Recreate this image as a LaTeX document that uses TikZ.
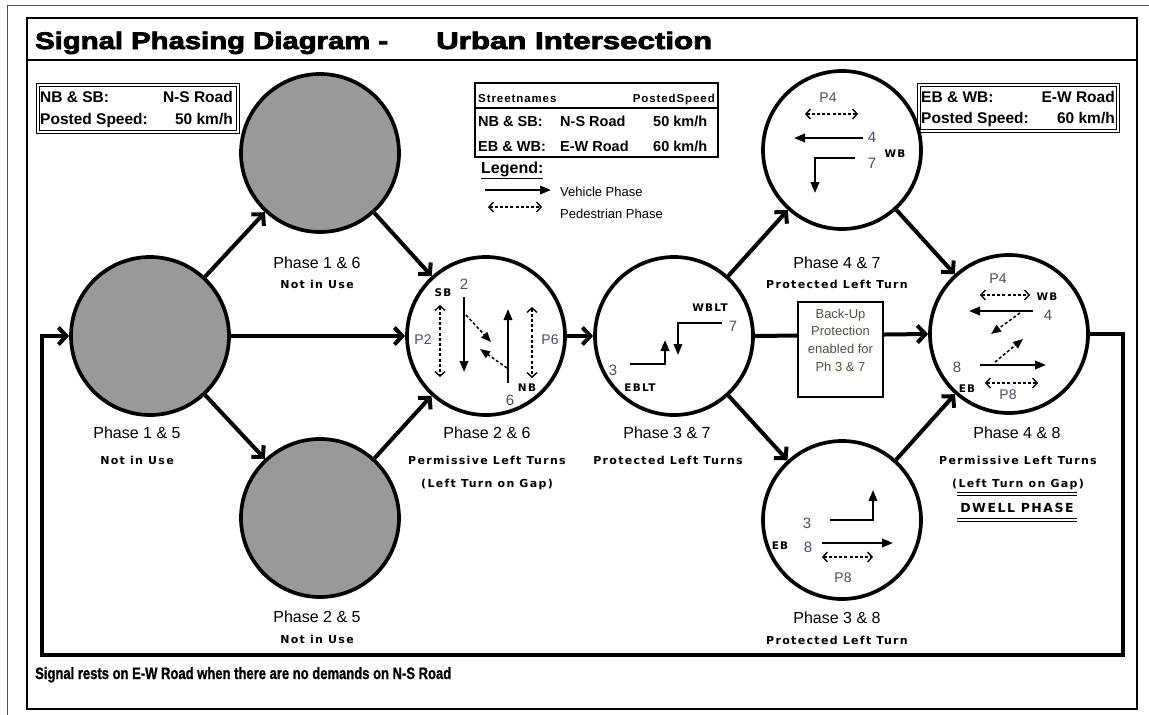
\documentclass[tikz,border=0pt]{standalone}
\usepackage{fontspec}
\usepackage{graphicx}
\setmainfont{Liberation Sans}
\setsansfont{Liberation Sans}
\newfontfamily\lsfont{DejaVu Sans}[LetterSpace=12]
\newfontfamily\lsnarrow{Liberation Sans}[LetterSpace=8]
\newfontfamily\heavyfont{Liberation Sans Bold}[FakeBold=3]
\newfontfamily\notefont{Liberation Sans Bold}[FakeBold=1.2]
\usetikzlibrary{arrows.meta}
\definecolor{circfill}{HTML}{999999}
\definecolor{numc}{HTML}{4A4A6A}
\definecolor{bkc}{HTML}{5A5045}
\newcommand{\fitw}[2]{\resizebox{#1}{\height}{#2}}
\begin{document}
\begin{tikzpicture}[x=1pt,y=-1pt,
  phasec/.style={circle, draw, line width=3.7pt, minimum size=158pt, inner sep=0pt},
  greyc/.style={phasec, fill=circfill},
  conn/.style={line width=4pt, -{Straight Barb[length=8pt,width=17pt]}},
  veh/.style={line width=2.2pt, -{Triangle[length=11pt,width=8.5pt]}},
  ped/.style={line width=1.4pt, dash pattern=on 3pt off 2.2pt, {Straight Barb[length=4.5pt,width=10pt]}-{Straight Barb[length=4.5pt,width=10pt]}},
  pdiag/.style={line width=1.5pt, dash pattern=on 3pt off 2.2pt, -{Triangle[length=10pt,width=8pt]}},
  ptxt/.style={inner sep=0pt, anchor=base, font=\fontsize{16}{18}\selectfont},
  stxt/.style={inner sep=0pt, anchor=base, font=\lsfont\bfseries\fontsize{11}{13}\selectfont},
  dirl/.style={inner sep=0pt, font=\lsfont\bfseries\fontsize{10.5}{12}\selectfont},
  numt/.style={inner sep=0pt, text=numc, font=\fontsize{15}{16}\selectfont},
  pedt/.style={inner sep=0pt, text=numc, font=\fontsize{14}{16}\selectfont},
  infot/.style={inner sep=0pt, font=\bfseries\fontsize{15.5}{17}\selectfont},
  tabt/.style={inner sep=0pt, anchor=base west, font=\bfseries\fontsize{14.5}{16}\selectfont},
  legt/.style={inner sep=0pt, anchor=base west, font=\fontsize{13}{15}\selectfont}
]
\useasboundingbox (0,0) rectangle (1149,715);
% frames
\draw[line width=1pt, black!70] (7,715) -- (7,5) -- (1149,5);
\draw[line width=1.3pt] (27,18) rectangle (1137,709);
\draw[line width=1.3pt] (27,60) -- (1137,60);
% title
\node[inner sep=0pt, anchor=base west] (t1) at (35,49) {\fitw{353pt}{\heavyfont\fontsize{24}{26}\selectfont Signal Phasing Diagram -}};
\node[inner sep=0pt, anchor=base west] (t2) at (436,49) {\fitw{276pt}{\heavyfont\fontsize{24}{26}\selectfont Urban Intersection}};
% left info box
\draw[line width=0.9pt] (36,83) rectangle (239,133);
\draw[line width=0.9pt] (39,86) rectangle (236,130);
\node[infot, anchor=base west] (l1) at (40,102.5) {NB \& SB:};
\node[infot, anchor=base east] (l2) at (233,102.5) {N-S Road};
\node[infot, anchor=base west] (l3) at (40,124.5) {Posted Speed:};
\node[infot, anchor=base east] (l4) at (233,124.5) {50 km/h};
% right info box
\draw[line width=0.9pt] (917,83) rectangle (1119,132);
\draw[line width=0.9pt] (920,86) rectangle (1116,129);
\node[infot, anchor=base west] (r1) at (921,102.5) {EB \& WB:};
\node[infot, anchor=base east] (r2) at (1115,102.5) {E-W Road};
\node[infot, anchor=base west] (r3) at (921,123.5) {Posted Speed:};
\node[infot, anchor=base east] (r4) at (1115,123.5) {60 km/h};
% center table
\draw[line width=2pt] (475,83) rectangle (718,157);
\draw[line width=1.5pt] (475,108) -- (718,108);
\node[inner sep=0pt, anchor=base west, font=\lsnarrow\bfseries\fontsize{11.5}{14}\selectfont] (h1) at (478,102) {Streetnames};
\node[inner sep=0pt, anchor=base east, font=\lsnarrow\bfseries\fontsize{11.5}{14}\selectfont] (h2) at (715,102) {PostedSpeed};
\node[tabt] (c1) at (478,126.5) {NB \& SB:};
\node[tabt] (c2) at (560,126.5) {N-S Road};
\node[tabt] (c3) at (653,126.5) {50 km/h};
\node[tabt] (c4) at (478,151.5) {EB \& WB:};
\node[tabt] (c5) at (560,151.5) {E-W Road};
\node[tabt] (c6) at (653,151.5) {60 km/h};
% legend
\node[inner sep=0pt, anchor=base west, font=\bfseries\fontsize{16}{18}\selectfont] (leg) at (481,173.5) {\underline{Legend:}};
\draw[veh] (485,190) -- (551,190);
\node[legt] (lv) at (560,196.5) {Vehicle Phase};
\draw[ped] (488,207) -- (542,207);
\node[legt] (lp) at (560,218.5) {Pedestrian Phase};
% phase circles
\node[greyc] (p15) at (150,336) {};
\node[greyc] (p16) at (320,153) {};
\node[greyc] (p25) at (320,518) {};
\node[phasec] (p26) at (486,336) {};
\node[phasec] (p37) at (674,336) {};
\node[phasec] (p47) at (842,150) {};
\node[phasec] (p48) at (1009,334) {};
\node[phasec] (p38) at (842,520) {};
% connectors
\draw[conn] (p15) -- (p16);
\draw[conn] (p15) -- (p25);
\draw[conn] (p15) -- (p26);
\draw[conn] (p16) -- (p26);
\draw[conn] (p25) -- (p26);
\draw[conn] (p26) -- (p37);
\draw[conn] (p37) -- (p47);
\draw[conn] (p37) -- (p38);
\draw[conn] (p37.east) -- (p48.west);
\draw[conn] (p47) -- (p48);
\draw[conn] (p38) -- (p48);
\coordinate (loopR) at (1123,655);
\coordinate (loopL) at (42,655);
\draw[conn] (p48.east) -| (loopR) -- (loopL) |- (p15.west);
% back-up box
\node[draw, line width=1.5pt, fill=white, minimum width=85pt, minimum height=95pt, inner sep=0pt] (bk) at (840.5,349.5) {};
\node[inner sep=0pt, align=center, text=bkc, font=\fontsize{13}{17.6}\selectfont] (bkt) at (840.5,340) {Back-Up\\Protection\\enabled for\\Ph 3 \& 7};
% phase labels
\node[ptxt] (a1) at (137,438) {Phase 1 \& 5};
\node[stxt] (a2) at (137,464) {Not in Use};
\node[ptxt] (b1) at (317,268) {Phase 1 \& 6};
\node[stxt] (b2) at (317,288) {Not in Use};
\node[ptxt] (c1l) at (317,622) {Phase 2 \& 5};
\node[stxt] (c2l) at (317,643) {Not in Use};
\node[ptxt] (d1) at (487,438) {Phase 2 \& 6};
\node[stxt] (d2) at (487,464) {Permissive Left Turns};
\node[stxt] (d3) at (487,487) {(Left Turn on Gap)};
\node[ptxt] (e1) at (667,438) {Phase 3 \& 7};
\node[stxt] (e2) at (668,464) {Protected Left Turns};
\node[ptxt] (f1) at (837,268) {Phase 4 \& 7};
\node[stxt] (f2) at (837,288) {Protected Left Turn};
\node[ptxt] (g1) at (1017,438) {Phase 4 \& 8};
\node[stxt] (g2) at (1018,464) {Permissive Left Turns};
\node[stxt] (g3) at (1018,487) {(Left Turn on Gap)};
\draw[line width=0.8pt] (957,492) -- (1077,492) (957,495.5) -- (1077,495.5);
\node[inner sep=0pt, anchor=base, font=\lsfont\bfseries\fontsize{12.5}{15}\selectfont] (g4) at (1017,512) {DWELL PHASE};
\draw[line width=0.8pt] (957,518) -- (1077,518) (957,521.5) -- (1077,521.5);
\node[ptxt] (h1l) at (837,623) {Phase 3 \& 8};
\node[stxt] (h2l) at (837,644) {Protected Left Turn};
% bottom note
\node[inner sep=0pt, anchor=base west] (note) at (35,679) {\fitw{416pt}{\notefont\fontsize{16.5}{18}\selectfont Signal rests on E-W Road when there are no demands on N-S Road}};
% phase 2 & 6 contents
\node[dirl] (sb) at (443,293) {SB};
\node[numt] (n2) at (464,284) {2};
\draw[veh] (464,297) -- (464,372);
\draw[ped] (440,305) -- (440,377);
\node[pedt] (pp2) at (423,340) {P2};
\draw[pdiag] (466,315) -- (491,342);
\draw[veh] (508,383) -- (508,309);
\draw[pdiag] (507,368) -- (480,349);
\draw[ped] (532,307) -- (532,378);
\node[pedt] (pp6) at (550,340) {P6};
\node[dirl] (nb) at (527,388) {NB};
\node[numt] (n6) at (510,400) {6};
% phase 3 & 7 contents
\node[dirl] (wblt) at (710,308) {WBLT};
\node[numt] (n7a) at (733,326) {7};
\draw[veh] (722,323) -- (678,323) -- (678,355);
\node[numt] (n3a) at (613,370) {3};
\draw[veh] (630,364) -- (665,364) -- (665,340);
\node[dirl] (eblt) at (640,388) {EBLT};
% phase 4 & 7 contents
\node[pedt] (pp4a) at (828,98) {P4};
\draw[ped] (805,114) -- (858,114);
\draw[veh] (863,138) -- (794,138);
\node[numt] (n4a) at (872,137) {4};
\node[dirl] (wba) at (895,154) {WB};
\node[numt] (n7b) at (872,163) {7};
\draw[veh] (855,158) -- (815,158) -- (815,193);
% phase 4 & 8 contents
\node[pedt] (pp4b) at (998,279) {P4};
\draw[ped] (980,295) -- (1030,295);
\node[dirl] (wbb) at (1047,297) {WB};
\draw[veh] (1033,311) -- (969,311);
\node[numt] (n4b) at (1048,315) {4};
\draw[pdiag] (1020,313) -- (991,334);
\draw[pdiag] (995,362) -- (1023,339);
\draw[veh] (980,365) -- (1046,365);
\node[numt] (n8b) at (957,367) {8};
\node[dirl] (ebb) at (967,389) {EB};
\draw[ped] (985,383) -- (1038,383);
\node[pedt] (pp8b) at (1008,395) {P8};
% phase 3 & 8 contents
\draw[veh] (830,520) -- (873,520) -- (873,490);
\node[numt] (n3c) at (807,523) {3};
\node[dirl] (ebc) at (780,546) {EB};
\node[numt] (n8c) at (808,547) {8};
\draw[veh] (822,543) -- (893,543);
\draw[ped] (822,557) -- (873,557);
\node[pedt] (pp8c) at (843,578) {P8};
\end{tikzpicture}
\end{document}
